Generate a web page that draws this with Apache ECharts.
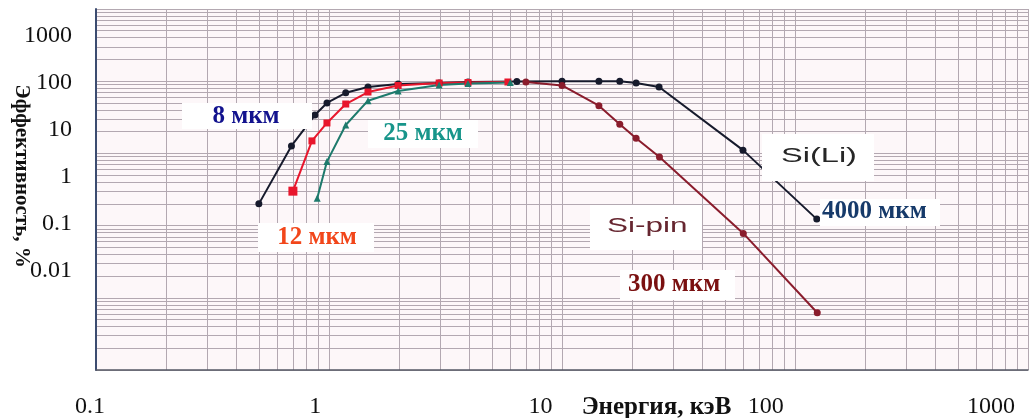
<!DOCTYPE html>
<html>
<head>
<meta charset="utf-8">
<script src="https://cdn.jsdelivr.net/npm/echarts@6/dist/echarts.min.js"></script>
<style>html,body{margin:0;padding:0;background:#fff}#c{width:1030px;height:418px}</style>
</head>
<body>
<div id="c"></div>
<script>
// ---- data (energy in keV, efficiency in %) ----
const energyBlack = [0.50, 0.69, 0.87, 0.98, 1.18, 1.47, 1.98, 2.97, 3.95, 6.4, 10.0, 14.4, 17.7, 20.8, 26.1, 59.8, 124];
const effBlack    = [2.0, 12.7, 34, 50, 69, 83, 91.5, 94.4, 97.5, 99, 100, 100, 100, 94.4, 83, 11.1, 1.23];
const energyRed   = [0.70, 0.845, 0.98, 1.18, 1.47, 1.98, 2.97, 3.95, 5.86];
const effRed      = [3.0, 14.9, 26.4, 48.3, 70.8, 87.2, 94.4, 95.9, 97.5];
const energyTeal  = [0.89, 0.98, 1.18, 1.47, 1.98, 2.97, 3.95, 6.0];
const effTeal     = [2.4, 7.7, 24.7, 53.7, 73.2, 88.5, 92.9, 95.9];
const energyPin   = [7.0, 10.0, 14.4, 17.7, 20.8, 26.2, 60.0, 124.6];
const effPin      = [97.5, 87.2, 45.8, 25.4, 16.2, 8.9, 0.78, 0.062];

const xTickValues = [0.1, 1, 10, 100, 1000];
const xTickLabels = ['0.1', '1', '10', '100', '1000'];
const yTickValues = [1000, 100, 10, 1, 0.1, 0.01];
const yTickLabels = ['1000', '100', '10', '1', '0.1', '0.01'];

const xAxisTitle = 'Энергия, кэВ';
const yAxisTitle = 'Эффективность, %';
const noteTexts = ['8 мкм', '12 мкм', '25 мкм', 'Si(Li)', '4000 мкм', 'Si-pin', '300 мкм'];

// log graph paper lines (1..9 in every decade)
const paperMultipliers = [1, 2, 3, 4, 5, 6, 7, 8, 9];
const paperXDecades = [0.1, 1, 10, 100];
const paperYDecades = [0.01, 0.1, 1, 10, 100];
function paperLines(decades, last) {
  const out = [];
  decades.forEach(d => paperMultipliers.forEach(m => out.push(+(d * m).toPrecision(6))));
  out.push(last);
  return out;
}
const paperX = paperLines(paperXDecades, 1000);
const paperY = paperLines(paperYDecades, 1000);

function pairs(xs, ys) { return xs.map((x, i) => [x, ys[i]]); }
function nearestLabel(values, labels, v) {
  let best = 0, bd = Infinity;
  values.forEach((t, i) => { const d = Math.abs(Math.log10(t) - Math.log10(v)); if (d < bd) { bd = d; best = i; } });
  return labels[best];
}

const serif = '"Liberation Serif", "Times New Roman", serif';
const sans = '"Liberation Sans", Arial, sans-serif';
const gridLine = { color: '#b3a8b1', width: 1 };

const chart = echarts.init(document.getElementById('c'), null, { renderer: 'canvas' });

function lineSeries(name, data, color, symbol, size, firstSize) {
  return {
    name, type: 'line', xAxisIndex: 0, yAxisIndex: 0, data,
    symbol, symbolSize: (v, p) => (p.dataIndex === 0 && firstSize ? firstSize : size), showSymbol: true,
    lineStyle: { color, width: 2 }, itemStyle: { color },
    z: 5, animation: false
  };
}

function box(x, y, w, h) {
  return { type: 'rect', shape: { x, y, width: w, height: h }, style: { fill: '#ffffff' }, z: 100, silent: true };
}
function note(text, x, y, font, fill, align, scaleX) {
  return { type: 'text', x, y, scaleX: scaleX || 1, z: 101, silent: true,
    style: { text, font, fill, align: align || 'center', verticalAlign: 'middle' } };
}

chart.setOption({
  animation: false,
  backgroundColor: '#ffffff',
  grid: [
    { left: 96, right: 2, top: 9, bottom: 48, show: true, backgroundColor: '#fdf7f9', borderWidth: 0, outerBoundsMode: 'none', containLabel: false },
    { left: 90, right: 39, top: 9, bottom: 33, outerBoundsMode: 'none', containLabel: false },
    { left: 96, right: 2, top: 35.5, bottom: 147.2, outerBoundsMode: 'none', containLabel: false }
  ],
  xAxis: [
    { gridIndex: 0, type: 'log', min: 0.1, max: 1000,
      axisLine: { show: true, lineStyle: { color: '#555a66', width: 1.5 } },
      axisTick: { show: false, customValues: paperX },
      axisLabel: { show: false },
      splitLine: { show: true, lineStyle: gridLine } },
    { gridIndex: 1, type: 'log', min: 0.1, max: 1000,
      axisLine: { show: false }, axisTick: { show: false }, splitLine: { show: false },
      axisLabel: { customValues: xTickValues, margin: 10, fontFamily: serif, fontSize: 24, color: '#111',
        formatter: v => nearestLabel(xTickValues, xTickLabels, v) },
      name: xAxisTitle, nameLocation: 'middle', nameGap: 10, nameMoveOverlap: false,
      nameTextStyle: { fontFamily: serif, fontSize: 25, fontWeight: 'bold', color: '#111', padding: [0, 0, 0, 232], verticalAlign: 'top' } },
    { gridIndex: 2, type: 'log', min: 0.1, max: 1000, show: false }
  ],
  yAxis: [
    { gridIndex: 0, type: 'log', min: 0.01, max: 1000,
      axisLine: { show: true, lineStyle: { color: '#3c4c70', width: 2 } },
      axisTick: { show: false, customValues: paperY },
      axisLabel: { show: false },
      splitLine: { show: true, lineStyle: gridLine } },
    { gridIndex: 1, type: 'log', min: 0.01, max: 1000, show: false },
    { gridIndex: 2, type: 'log', min: 0.01, max: 1000,
      axisLine: { show: false }, axisTick: { show: false }, splitLine: { show: false },
      axisLabel: { customValues: yTickValues, margin: 24, fontFamily: serif, fontSize: 24, color: '#111',
        formatter: v => nearestLabel(yTickValues, yTickLabels, v) },
      name: yAxisTitle, nameLocation: 'middle', nameRotate: -90, nameGap: 64, nameMoveOverlap: false,
      nameTextStyle: { fontFamily: serif, fontSize: 21, fontWeight: 'bold', color: '#111', padding: [0, 0, 0, 46] } }
  ],
  series: [
    lineSeries('8 мкм / Si(Li) 4000 мкм', pairs(energyBlack, effBlack), '#161a2c', 'circle', 7),
    lineSeries('12 мкм', pairs(energyRed, effRed), '#e8162c', 'rect', 7, 9),
    lineSeries('25 мкм', pairs(energyTeal, effTeal), '#1d7a6c', 'triangle', 7),
    lineSeries('Si-pin 300 мкм', pairs(energyPin, effPin), '#8a1c2c', 'circle', 7)
  ],
  graphic: [
    box(182, 103, 130, 26),
    note(noteTexts[0], 246, 117, 'bold 25px ' + serif, '#12128e'),
    box(258, 223, 116, 29),
    note(noteTexts[1], 317, 238, 'bold 25px ' + serif, '#f2461a'),
    box(368, 120, 110, 28),
    note(noteTexts[2], 423, 134, 'bold 25px ' + serif, '#17958a'),
    box(762, 134, 112, 47),
    note(noteTexts[3], 781, 156, '21px ' + sans, '#262626', 'left', 1.55),
    box(820, 199, 120, 27),
    note(noteTexts[4], 822, 212, 'bold 25px ' + serif, '#163a6a', 'left'),
    box(590, 205, 112, 45),
    note(noteTexts[5], 607, 226, '21px ' + sans, '#662630', 'left', 1.5),
    box(620, 270, 115, 30),
    note(noteTexts[6], 628, 285, 'bold 25px ' + serif, '#7a1010', 'left')
  ]
});
</script>
</body>
</html>
